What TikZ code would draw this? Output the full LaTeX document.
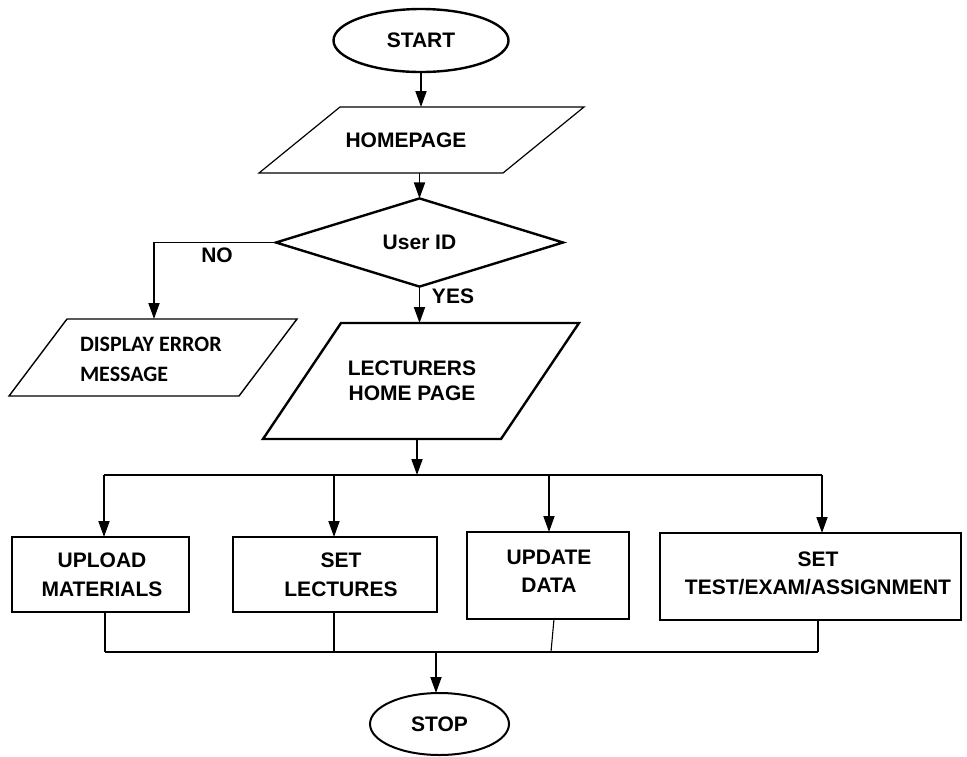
\documentclass[tikz,border=0pt]{standalone}
\usepackage{fontspec}
\setmainfont{Liberation Sans}
\newfontfamily\narrowfont{Carlito}
\usetikzlibrary{shapes.geometric,arrows.meta,calc}

\begin{document}
\begin{tikzpicture}[x=1pt,y=-1pt,
  every node/.style={font=\bfseries\fontsize{21}{25}\selectfont, inner sep=0pt, outer sep=0pt},
  term/.style={ellipse, draw, line width=2.4pt},
  procbox/.style={rectangle, draw, line width=2.4pt},
  frame/.style={rectangle},
  arr/.style={line width=1.8pt, -{Triangle[length=16pt,width=11pt]}},
  joinline/.style={line width=1.1pt},
  busline/.style={line width=1.8pt}]

\useasboundingbox (0,0) rectangle (967,756);

% --- start and homepage
\node[term, minimum width=175pt, minimum height=63pt] (start) at (421,40.5) {START};

\node[frame, minimum width=325pt, minimum height=66pt] (home) at (421.5,140) {};
\draw[line width=1.2pt] ($(home.north west)+(81,0)$) -- (home.north east)
  -- ($(home.south east)-(81,0)$) -- (home.south west) -- cycle;
\node (hometxt) at (406,140) {HOMEPAGE};

% --- login decision
\node[diamond, draw, line width=2.4pt, minimum width=287pt, minimum height=75pt] (uid) at (419.5,242.5) {User ID};

% --- error output
\node[frame, minimum width=288pt, minimum height=77pt] (err) at (153,357.5) {};
\draw[line width=1.4pt] ($(err.north west)+(58,0)$) -- (err.north east)
  -- ($(err.south east)-(58,0)$) -- (err.south west) -- cycle;
\node[anchor=west, align=left, font=\narrowfont\bfseries\fontsize{22}{30}\selectfont] (errtxt) at (80,359) {DISPLAY ERROR\\MESSAGE};

% --- lecturer home page
\node[frame, minimum width=316pt, minimum height=116pt] (lec) at (421,381) {};
\draw[line width=2.4pt] ($(lec.north west)+(78,0)$) -- (lec.north east)
  -- ($(lec.south east)-(78,0)$) -- (lec.south west) -- cycle;
\node[align=center] (lectxt) at (412,380.5) {LECTURERS\\HOME PAGE};

% --- lecturer actions
\node[procbox, minimum width=177pt, minimum height=75pt] (upl) at (100.5,574.5) {};
\node[align=center, font=\bfseries\fontsize{21}{29}\selectfont] (upltxt) at (102,574.5) {UPLOAD\\MATERIALS};

\node[procbox, minimum width=204pt, minimum height=75pt] (lecset) at (335,574.5) {};
\node[align=center, font=\bfseries\fontsize{21}{29}\selectfont] (lecsettxt) at (341,574.5) {SET\\LECTURES};

\node[procbox, minimum width=162pt, minimum height=87pt] (upd) at (548,575.5) {};
\node[align=center, font=\bfseries\fontsize{21}{28}\selectfont] (updtxt) at (549,571) {UPDATE\\DATA};

\node[procbox, minimum width=301pt, minimum height=87pt] (test) at (810.5,576.5) {};
\node[align=center, font=\bfseries\fontsize{21}{28}\selectfont] (testtxt) at (818,573) {SET\\TEST/EXAM/ASSIGNMENT};

% --- stop
\node[term, line width=2pt, minimum width=139pt, minimum height=62pt] (stop) at (439.5,724) {STOP};

% --- connectors
\draw[arr] (start.south) -- (start.south |- home.north);
\draw[arr] (home.south -| uid.north) -- (uid.north);

\coordinate (nocorner) at (154,242.5);
\draw[arr] (uid.west) -- (nocorner) -- (nocorner |- err.north);
\node (nolbl) at (217,255) {NO};

\draw[arr] (uid.south) -- (uid.south |- lec.north);
\node (yeslbl) at (453,296) {YES};

% fan-out bus
\coordinate (bus) at (417,475);
\coordinate (b1) at (104,475);
\coordinate (b2) at (334,475);
\coordinate (b3) at (549,475);
\coordinate (b4) at (822,475);
\draw[arr] (lec.south -| bus) -- (bus);
\draw[busline] (b1) -- (b4);
\draw[arr] (b1) -- (b1 |- upl.north);
\draw[arr] (b2) -- (b2 |- lecset.north);
\draw[arr] (b3) -- (b3 |- upd.north);
\draw[arr] (b4) -- (b4 |- test.north);

% fan-in bus
\coordinate (j1) at (105,652);
\coordinate (j2) at (334,652);
\coordinate (j3) at (551,652);
\coordinate (j4) at (818,652);
\coordinate (j0) at (436,652);
\draw[joinline] (upl.south -| j1) -- (j1);
\draw[joinline] (lecset.south -| j2) -- (j2);
\draw[joinline] ([xshift=6pt]upd.south) -- (j3);
\draw[joinline] (test.south -| j4) -- (j4);
\draw[busline] (j1) -- (j4);
\draw[arr] (j0) -- (j0 |- stop.north);

\end{tikzpicture}
\end{document}
